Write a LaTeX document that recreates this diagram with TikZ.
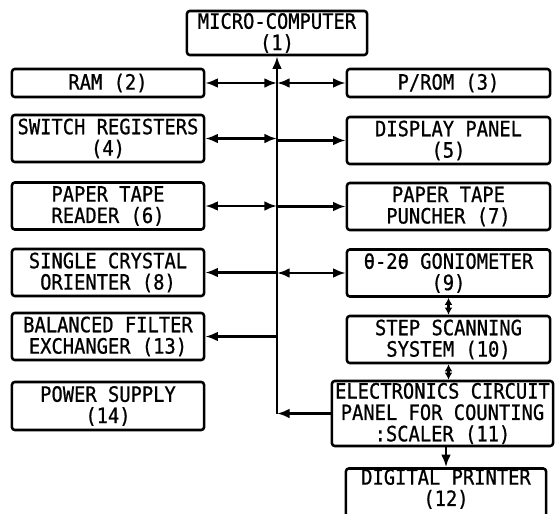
\documentclass[tikz,border=0pt]{standalone}
\usepackage{fontspec}
\usetikzlibrary{positioning, arrows.meta}
\newfontfamily\leroy{DejaVu Sans Mono}[FakeStretch=0.89, FakeBold=0.8]
\newcommand{\blkfont}{\leroy\fontsize{15}{15.2}\selectfont\lineskiplimit=-20pt}

\begin{document}
\begin{tikzpicture}[
    x=0.025cm, y=-0.025cm,
    blk/.style={
        draw,
        line width=1.8pt,
        rounded corners=2pt,
        font=\blkfont,
        align=center,
        inner xsep=0pt,
        inner ysep=0pt
    },
    lcol/.style={blk, minimum width=4.8cm, minimum height=#1},
    lcol/.default=1.175cm,
    rcol/.style={blk, minimum width=5.075cm, minimum height=#1},
    rcol/.default=1.175cm,
    bus/.style={line width=1.8pt, -{Latex[length=9pt, width=7pt]}},
    dbus/.style={line width=1.8pt, {Latex[length=9pt, width=7pt]}-{Latex[length=9pt, width=7pt]}},
    short/.style={line width=1.8pt, {Latex[length=5pt, width=5.5pt]}-{Latex[length=5pt, width=5.5pt]}}
]
\useasboundingbox (0,0) rectangle (555,514);
\clip (0,0) rectangle (555,514);

% === Micro-computer ===
\node[blk, minimum width=4.5cm, minimum height=1.1cm] (micro) at (277,33) {MICRO-COMPUTER\\(1)};

% === Left column ===
\node[lcol=0.7cm] (ram) at (108,83) {RAM (2)};
\node[lcol] (switchreg) at (108,138.5) {SWITCH REGISTERS\\(4)};
\node[lcol] (reader) at (108,206) {PAPER TAPE\\READER (6)};
\node[lcol] (orienter) at (108,272.5) {SINGLE CRYSTAL\\ORIENTER (8)};
\node[lcol] (filter) at (108,336.5) {BALANCED FILTER\\EXCHANGER (13)};
\node[lcol=1.2cm] (power) at (108,406) {POWER SUPPLY\\(14)};

% === Right column ===
\node[rcol=0.7cm] (prom) at (448.5,83) {P/ROM (3)};
\node[rcol] (disp) at (448.5,140.5) {DISPLAY PANEL\\(5)};
\node[rcol] (puncher) at (448.5,206.5) {PAPER TAPE\\PUNCHER (7)};
\node[rcol] (gonio) at (448.5,273) {θ-2θ GONIOMETER\\(9)};
\node[rcol] (stepscan) at (448.5,339.5) {STEP SCANNING\\SYSTEM (10)};
\node[blk, minimum width=5.525cm, minimum height=1.625cm] (scaler) at (442.5,413.5) {ELECTRONICS CIRCUIT\\PANEL FOR COUNTING\\:SCALER (11)};
\node[blk, minimum width=5cm, minimum height=1.3cm, text depth=10pt] (printer) at (446,494.5) {DIGITAL PRINTER\\(12)};

% === Bus ===
\coordinate (busbot) at (micro.south |- scaler.west);
\draw[bus] (scaler.west) -- (busbot);
\draw[bus] (busbot) -- (micro.south);

\draw[dbus] (ram.east) -- (ram.east -| micro.south);
\draw[dbus] (prom.west -| micro.south) -- (prom.west);
\draw[dbus] (switchreg.east) -- (switchreg.east -| micro.south);
\draw[bus] (disp.west -| micro.south) -- (disp.west);
\draw[dbus] (reader.east) -- (reader.east -| micro.south);
\draw[bus] (puncher.west -| micro.south) -- (puncher.west);
\draw[bus] (orienter.east -| micro.south) -- (orienter.east);
\draw[dbus] (gonio.west -| micro.south) -- (gonio.west);
\draw[bus] (filter.east -| micro.south) -- (filter.east);

% === Counting chain ===
\draw[short] (gonio.south) -- (stepscan.north);
\draw[short] (stepscan.south) -- (stepscan.south |- scaler.north);
\draw[bus] (scaler.south -| printer.north) -- (printer.north);

\end{tikzpicture}
\end{document}
